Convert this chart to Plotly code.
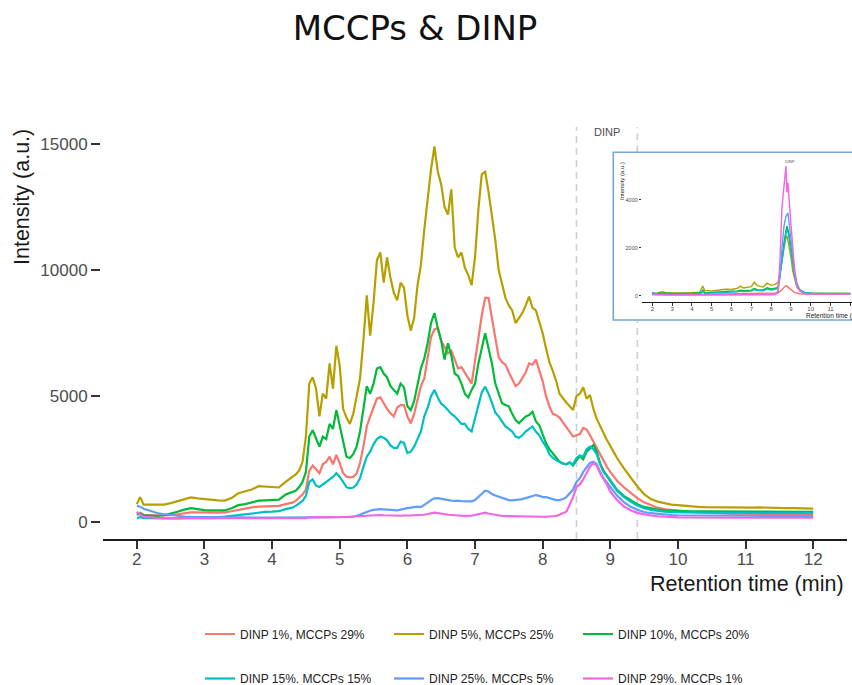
import plotly.graph_objects as go

# ---------------- main chart data ----------------
T = [2.0, 2.05, 2.1, 2.2, 2.3, 2.4, 2.5, 2.6, 2.7, 2.8, 2.9, 3.0, 3.1, 3.2, 3.3, 3.4, 3.5, 3.6, 3.7, 3.8, 3.9, 4.0, 4.1, 4.2, 4.3,
     4.35, 4.40, 4.45, 4.50, 4.55, 4.60, 4.65, 4.70, 4.75, 4.80, 4.85, 4.90, 4.95, 5.00, 5.05, 5.10, 5.15, 5.20, 5.25, 5.30,
     5.35, 5.40, 5.45, 5.50, 5.55, 5.60, 5.65, 5.70, 5.75, 5.80, 5.85, 5.90, 5.95, 6.00, 6.05, 6.10, 6.15, 6.20, 6.25, 6.30,
     6.35, 6.40, 6.45, 6.50, 6.55, 6.60, 6.65, 6.70, 6.75, 6.80, 6.85, 6.90, 6.95, 7.00, 7.05, 7.10, 7.15, 7.20, 7.25, 7.30,
     7.35, 7.40, 7.45, 7.50, 7.55, 7.60, 7.65, 7.70, 7.75, 7.80, 7.85, 7.90, 7.95, 8.00, 8.05, 8.10, 8.15, 8.20, 8.25, 8.30,
     8.35, 8.40, 8.45, 8.50, 8.55, 8.60, 8.65, 8.70, 8.75, 8.80, 8.85, 8.90, 8.95, 9.00,
     9.1, 9.2, 9.3, 9.4, 9.5, 9.6, 9.7, 9.8, 9.9, 10.0, 10.1, 10.2, 10.3, 10.4, 10.5, 10.6, 10.7, 10.8, 10.9, 11.0,
     11.1, 11.2, 11.3, 11.4, 11.5, 11.6, 11.7, 11.8, 11.9, 12.0]

dinp1 = [330, 380, 300, 280, 270, 270, 280, 320, 360, 390, 390, 380, 385, 380, 390, 440, 520, 560, 590, 620, 630, 640, 650, 720, 780,
         850, 980, 1100, 1300, 2050, 2250, 2100, 1950, 2300, 2400, 2600, 2300, 2670, 2350, 1950, 1810, 1780, 1800, 1940, 2350,
         3000, 3800, 4200, 4580, 4900, 4950, 4700, 4500, 4320, 4200, 4550, 4650, 4650, 4200, 3920, 4300, 4850, 5400, 5700, 6450,
         7350, 7650, 7700, 7200, 6950, 6700, 6800, 6450, 6100, 6150, 5950, 5700, 5500, 6400, 7400, 8200, 8900, 8900, 8100, 7300,
         6550, 6350, 6250, 5950, 5700, 5400, 5500, 5700, 5950, 6300, 6250, 6450, 6000, 5600, 5000, 4600, 4300, 4250, 4150, 3950,
         3750, 3550, 3400, 3450, 3500, 3740, 3680, 3450, 3200, 2950, 2670, 2420, 2200, 2000,
         1650, 1390, 1170, 960, 790, 670, 580, 520, 480, 455, 430, 410, 395, 380, 370, 360, 350, 345, 340, 338,
         335, 335, 333, 330, 330, 328, 325, 325, 322, 320]

dinp5 = [720, 1000, 700, 690, 680, 700, 760, 840, 920, 990, 950, 920, 900, 870, 860, 960, 1150, 1230, 1300, 1430, 1410, 1400, 1380, 1600, 1800,
         1900, 2050, 2400, 3400, 5500, 5750, 5300, 4200, 5100, 4900, 6300, 5300, 7000, 6200, 4500, 4150, 3900, 4300, 5000, 5700,
         7200, 9000, 7400, 8700, 10400, 10700, 9500, 10500, 9700, 9100, 8800, 9500, 9300, 8200, 7600, 8100, 9400, 10200, 11600, 12800,
         14000, 14900, 13900, 13400, 12500, 12200, 13200, 10900, 10500, 10700, 10100, 9800, 9400, 10500, 12400, 13800, 13900, 13100, 12200, 11200,
         10000, 9400, 8900, 8600, 8400, 7900, 8100, 8300, 8600, 8950, 8500, 8400, 7950, 7500, 6900, 6350, 6000, 5600, 5100, 4900,
         4750, 4600, 4450, 5000, 5100, 5350, 4900, 5050, 4500, 4100, 3800, 3500, 3260, 3030,
         2550, 2150, 1770, 1420, 1120, 920, 820, 760, 700, 680, 650, 630, 615, 600, 595, 590, 585, 585, 580, 580,
         585, 590, 590, 585, 575, 565, 560, 555, 545, 540]

dinp10 = [300, 350, 280, 260, 250, 280, 340, 420, 500, 560, 520, 480, 470, 460, 470, 560, 680, 720, 780, 860, 870, 880, 900, 1100, 1200,
          1250, 1400, 1600, 2000, 3400, 3650, 3300, 3000, 3400, 3300, 3900, 3700, 4450, 3800, 3200, 2600, 2550, 2700, 3000, 3600,
          4500, 5400, 5100, 5500, 6100, 6150, 5900, 5750, 5400, 5250, 5100, 5500, 5350, 4600, 4450, 4800, 5500, 6100, 6500, 7100,
          7900, 8300, 7700, 7200, 6450, 7100, 6600, 5900, 5800, 5500, 5100, 4950, 5250, 5500, 6300, 6950, 7500, 6900, 6300, 5500,
          5100, 4720, 4650, 4600, 4300, 4050, 3925, 4050, 4200, 4250, 4385, 4000, 3850, 3500, 3130, 2900, 2730, 2550, 2400, 2340,
          2300, 2380, 2250, 2450, 2630, 2500, 2800, 2930, 3065, 2800, 2340, 2050, 1850, 1680,
          1290, 1050, 870, 720, 610, 545, 500, 470, 455, 445, 440, 435, 432, 430, 430, 428, 428, 425, 425, 425,
          428, 430, 430, 428, 425, 422, 420, 418, 415, 415]

dinp15 = [170, 200, 160, 150, 145, 145, 150, 155, 160, 170, 180, 190, 200, 210, 225, 260, 300, 330, 360, 390, 410, 420, 440, 520, 580,
          650, 750, 850, 1050, 1600, 1700, 1450, 1400, 1500, 1600, 1680, 1800, 1950, 1800, 1600, 1400, 1350, 1380, 1500, 1750,
          2200, 2600, 2800, 3100, 3300, 3400, 3350, 3250, 3050, 2950, 2950, 3200, 3150, 2750, 2800, 3000, 3300, 3600, 4200, 4550,
          5000, 5250, 4950, 4700, 4600, 4450, 4300, 4200, 4050, 3900, 3900, 3700, 3600, 4100, 4700, 5150, 5380, 5100, 4750, 4350,
          4200, 4000, 3800, 3700, 3600, 3400, 3350, 3450, 3600, 3700, 3800, 3600, 3450, 3200, 3000, 2700, 2550, 2470, 2400, 2320,
          2300, 2350, 2300, 2550, 2650, 2600, 2900, 3000, 2900, 2700, 2300, 2000, 1820, 1640,
          1250, 1010, 820, 670, 560, 490, 445, 420, 405, 395, 390, 385, 382, 380, 378, 377, 376, 375, 375, 374,
          374, 375, 375, 374, 373, 372, 372, 371, 370, 370]

dinp25 = [650, 620, 540, 440, 370, 320, 280, 250, 230, 215, 210, 205, 200, 200, 200, 195, 195, 190, 190, 190, 185, 185, 185, 185, 185,
          185, 185, 185, 185, 190, 185, 190, 190, 195, 190, 190, 195, 200, 200, 200, 205, 210, 220, 250, 300,
          360, 420, 460, 490, 510, 520, 510, 500, 480, 460, 470, 500, 540, 560, 580, 600, 620, 600, 680, 780,
          880, 950, 960, 930, 900, 880, 860, 850, 860, 840, 830, 820, 830, 880, 1000, 1120, 1250, 1220, 1120, 1060,
          1010, 950, 900, 880, 870, 880, 900, 920, 960, 1000, 1050, 1080, 1050, 1000, 1000, 950, 900, 880, 880, 920,
          1000, 1150, 1300, 1600, 1750, 2000, 2200, 2350, 2400, 2300, 2000, 1750, 1580, 1410,
          1060, 800, 620, 500, 410, 360, 330, 305, 290, 280, 275, 270, 268, 266, 265, 264, 263, 262, 261, 260,
          260, 260, 259, 258, 258, 257, 257, 256, 255, 255]

dinp29 = [420, 300, 220, 190, 175, 165, 160, 158, 160, 155, 160, 158, 155, 160, 158, 160, 155, 160, 158, 160, 162, 160, 158, 160, 162,
          160, 162, 160, 165, 200, 195, 200, 195, 200, 205, 200, 210, 205, 200, 210, 205, 210, 215, 220, 230,
          240, 250, 260, 270, 280, 290, 280, 270, 260, 250, 255, 260, 270, 260, 270, 280, 290, 280, 300, 330,
          360, 380, 370, 340, 320, 300, 290, 270, 265, 260, 255, 250, 260, 290, 330, 370, 380, 350, 320, 290,
          270, 250, 245, 240, 235, 230, 230, 225, 225, 230, 230, 225, 225, 220, 220, 225, 230, 250, 300, 350,
          420, 700, 1000, 1400, 1500, 1700, 1950, 2200, 2350, 2250, 1950, 1750, 1500, 1220,
          880, 630, 480, 375, 310, 270, 240, 220, 205, 195, 190, 185, 184, 183, 182, 182, 181, 181, 180, 180,
          180, 181, 181, 180, 180, 180, 180, 180, 180, 180]

series_names = ["DINP 1%, MCCPs 29%", "DINP 5%, MCCPs 25%", "DINP 10%, MCCPs 20%",
                "DINP 15%. MCCPs 15%", "DINP 25%. MCCPs 5%", "DINP 29%. MCCPs 1%"]
series_values = [dinp1, dinp5, dinp10, dinp15, dinp25, dinp29]
colors = ["#F8766D", "#B79F00", "#00BA38", "#00BFC4", "#619CFF", "#F564E3"]

x_ticks = [2, 3, 4, 5, 6, 7, 8, 9, 10, 11, 12]
y_ticks = [0, 5000, 10000, 15000]
y_tick_labels = ["0", "5000", "10000", "15000"]
dinp_window = [8.5, 9.4]

# ---------------- inset data ----------------
T_in = [2.0, 2.2, 2.5, 2.7, 3.0, 3.5, 4.0, 4.4, 4.5, 4.55, 4.65, 5.0, 5.5, 5.7, 6.0, 6.3, 6.45, 6.6, 7.0, 7.15,
        7.3, 7.6, 7.8, 8.0, 8.2, 8.35, 8.45, 8.55, 8.65, 8.75, 8.8, 8.85, 8.9, 9.0, 9.1, 9.2, 9.3, 9.45, 9.7, 10.0,
        10.5, 11.0, 11.5, 12.0]
in_dinp1 = [80, 60, 70, 60, 55, 55, 60, 60, 70, 90, 65, 60, 65, 70, 70, 70, 80, 75, 80, 90,
            80, 80, 90, 85, 95, 110, 180, 260, 380, 420, 400, 360, 330, 250, 190, 130, 100, 80, 70, 65,
            62, 60, 60, 60]
in_dinp5 = [120, 90, 170, 130, 110, 110, 130, 150, 330, 400, 220, 200, 250, 270, 260, 310, 400, 320, 380, 560,
            420, 360, 520, 430, 470, 560, 900, 1500, 2000, 2400, 2500, 2300, 2100, 1600, 1000, 600, 350, 200, 120, 100,
            95, 90, 90, 90]
in_dinp10 = [100, 90, 110, 100, 90, 95, 100, 110, 150, 250, 130, 140, 170, 175, 180, 200, 230, 210, 230, 300,
             250, 240, 330, 280, 310, 350, 900, 1600, 2200, 2700, 2900, 2750, 2600, 2000, 1300, 800, 450, 250, 130, 100,
             95, 92, 90, 90]
in_dinp15 = [70, 60, 80, 70, 65, 70, 75, 85, 120, 200, 100, 110, 130, 140, 150, 165, 190, 175, 190, 250,
             210, 200, 280, 240, 270, 310, 850, 1500, 2100, 2600, 2750, 2650, 2450, 1900, 1250, 750, 420, 230, 120, 95,
             90, 88, 86, 85]
in_dinp25 = [150, 60, 45, 40, 40, 40, 40, 40, 45, 50, 45, 45, 45, 45, 45, 45, 50, 45, 45, 50,
             45, 45, 50, 50, 60, 150, 800, 2000, 2900, 3300, 3400, 3450, 3100, 2500, 1700, 1000, 550, 220, 90, 70,
             65, 62, 60, 60]
in_dinp29 = [40, 30, 30, 30, 30, 30, 30, 30, 30, 35, 30, 30, 30, 30, 30, 30, 35, 30, 30, 35,
             30, 30, 35, 35, 40, 200, 1500, 3700, 4600, 5400, 4300, 4700, 4100, 3000, 1800, 900, 450, 200, 80, 65,
             62, 60, 60, 60]
inset_values = [in_dinp1, in_dinp5, in_dinp10, in_dinp15, in_dinp25, in_dinp29]
inset_x_ticks = [2, 3, 4, 5, 6, 7, 8, 9, 10, 11, 12]
inset_y_ticks = [0, 2000, 4000]
inset_y_tick_labels = ["0", "2000", "4000"]

# ---------------- layout geometry (pixels) ----------------
W, H = 852, 685
ML, MR, MT, MB = 100, 0, 127, 146
PW, PH = W - ML - MR, H - MT - MB


def px_x(p):
    return (p - ML) / PW


def px_y(p):
    return (H - MB - p) / PH


FONT = "Liberation Sans, Arial, sans-serif"

fig = go.Figure()

for i, (name, vals, col) in enumerate(zip(series_names, series_values, colors)):
    fig.add_trace(go.Scatter(
        x=T, y=vals, mode="lines", name=name,
        line=dict(color=col, width=2.2),
        legend="legend" if i < 3 else "legend2",
        xaxis="x", yaxis="y",
    ))

for vals, col in zip(inset_values, colors):
    fig.add_trace(go.Scatter(
        x=T_in, y=vals, mode="lines", showlegend=False,
        line=dict(color=col, width=1.4),
        xaxis="x2", yaxis="y2",
    ))

shapes = []
dash_style = dict(color="#cfcfcf", width=1.6, dash="7px,5px")
shapes.append(dict(type="line", xref="x", yref="paper", x0=dinp_window[0], x1=dinp_window[0],
                   y0=0, y1=1, line=dash_style, layer="below"))
shapes.append(dict(type="line", xref="x", yref="paper", x0=dinp_window[1], x1=dinp_window[1],
                   y0=0, y1=px_y(320), line=dash_style, layer="below"))
shapes.append(dict(type="line", xref="x", yref="paper", x0=dinp_window[1], x1=dinp_window[1],
                   y0=px_y(152.3), y1=1, line=dash_style, layer="below"))
in_y0, in_y1 = px_y(302.3), px_y(159.4)
for xv in dinp_window:
    shapes.append(dict(type="line", xref="x2", yref="paper", x0=xv, x1=xv, y0=in_y0, y1=in_y1,
                       line=dict(color="#cfcfcf", width=0.8, dash="2px,2px"), layer="below"))
shapes.append(dict(type="rect", xref="paper", yref="paper", x0=px_x(613.3), x1=px_x(860),
                   y0=px_y(320), y1=px_y(152.3), line=dict(color="#74A7DA", width=1.6),
                   fillcolor="rgba(0,0,0,0)", layer="above"))

annotations = [
    dict(text="Intensity (a.u.)", textangle=-90, xref="paper", yref="paper",
         x=px_x(22), y=1.0, xanchor="center", yanchor="top", showarrow=False,
         font=dict(family=FONT, size=21.5, color="#1a1a1a")),
    dict(text="Retention time (min)", xref="paper", yref="paper",
         x=px_x(846), y=px_y(584), xanchor="right", yanchor="middle", showarrow=False,
         font=dict(family=FONT, size=21.5, color="#1a1a1a")),
    dict(text="DINP", xref="x", yref="paper", x=sum(dinp_window) / 2, y=px_y(131.5),
         xanchor="center", yanchor="middle", showarrow=False,
         font=dict(family=FONT, size=11, color="#4d4d4d")),
    dict(text="DINP", xref="x2", yref="paper", x=sum(dinp_window) / 2, y=px_y(161),
         xanchor="center", yanchor="middle", showarrow=False,
         font=dict(family=FONT, size=4, color="#4d4d4d")),
    dict(text="Retention time (min)", xref="paper", yref="paper", x=px_x(804), y=px_y(316),
         xanchor="left", yanchor="middle", showarrow=False,
         font=dict(family=FONT, size=6.5, color="#1a1a1a")),
    dict(text="Intensity (a.u.)", textangle=-90, xref="paper", yref="paper",
         x=px_x(622), y=px_y(160), xanchor="center", yanchor="top", showarrow=False,
         font=dict(family=FONT, size=6, color="#1a1a1a")),
]

legend_common = dict(orientation="h", xref="container", yref="container",
                     xanchor="left", yanchor="middle",
                     font=dict(family=FONT, size=12, color="#222222"),
                     entrywidth=144, entrywidthmode="pixels", itemwidth=30,
                     bgcolor="rgba(0,0,0,0)", traceorder="normal")

fig.update_layout(
    width=W, height=H,
    margin=dict(l=ML, r=MR, t=MT, b=MB),
    paper_bgcolor="white", plot_bgcolor="white",
    title=dict(text="MCCPs & DINP", x=415 / W, xref="container", xanchor="center",
               y=1 - 28 / H, yref="container", yanchor="middle",
               font=dict(family="DejaVu Sans, Verdana, sans-serif", size=34, color="#111111")),
    xaxis=dict(domain=[3 / PW, (847 - ML) / PW], range=[1.5, 12.5], anchor="y",
               tickvals=x_ticks, ticks="outside", ticklen=8, tickwidth=1.8, tickcolor="#333333",
               ticklabelstandoff=-4,
               showline=True, linecolor="#1a1a1a", linewidth=2, showgrid=False, zeroline=False,
               tickfont=dict(family=FONT, size=17, color="#4d4d4d")),
    yaxis=dict(domain=[0, 1], range=[-662, 15674], anchor="free", position=0,
               tickvals=y_ticks, ticktext=y_tick_labels, ticks="outside", ticklen=9, tickwidth=1.8,
               tickcolor="#333333",
               showline=False, showgrid=False, zeroline=False,
               tickfont=dict(family=FONT, size=17, color="#4d4d4d")),
    xaxis2=dict(domain=[px_x(642.4), 1], range=[1.5, 1.5 + (W - 642.4) / 19.8], anchor="y2",
                tickvals=inset_x_ticks, ticks="outside", ticklen=2.5, tickwidth=0.8, tickcolor="#333333",
                ticklabelstandoff=-2,
                showline=True, linecolor="#1a1a1a", linewidth=0.9, showgrid=False, zeroline=False,
                tickfont=dict(family=FONT, size=6, color="#4d4d4d")),
    yaxis2=dict(domain=[px_y(302.3), px_y(159.4)], range=[-275, 5679], anchor="x2",
                tickvals=inset_y_ticks, ticktext=inset_y_tick_labels, ticks="outside", ticklen=2.5,
                tickwidth=0.8, tickcolor="#333333",
                showline=False, showgrid=False, zeroline=False,
                tickfont=dict(family=FONT, size=5.5, color="#4d4d4d")),
    legend=dict(x=200 / W, y=1 - 634 / H, **legend_common),
    legend2=dict(x=200 / W, y=1 - 678.5 / H, **legend_common),
    shapes=shapes,
    annotations=annotations,
    showlegend=True,
)

fig.write_html("out.html")
